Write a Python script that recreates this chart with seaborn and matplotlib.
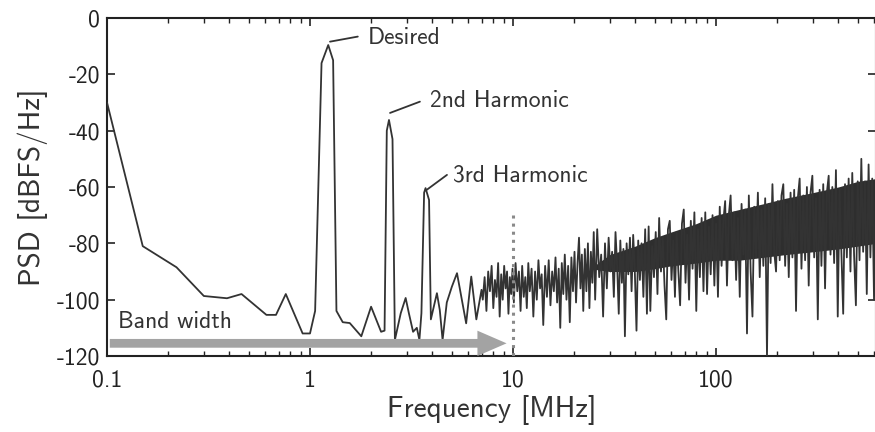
import numpy as np
import pandas as pd
import matplotlib
matplotlib.use("Agg")
import matplotlib.pyplot as plt
import seaborn as sns

# ---- data ----
# low-frequency part (MHz, dBFS/Hz)
low_f = [0.1, 0.15, 0.22, 0.3, 0.39, 0.46, 0.61, 0.68, 0.76, 0.92, 1.0, 1.06,
         1.14, 1.23, 1.30, 1.35, 1.45, 1.57, 1.79, 2.0, 2.24, 2.33, 2.39, 2.45,
         2.55, 2.62, 2.8, 2.96, 3.07, 3.22, 3.36, 3.46, 3.54, 3.65, 3.71, 3.86,
         3.94, 4.22, 4.36, 4.5, 4.72, 5.0, 5.3, 5.6, 5.88, 6.23, 6.6, 7.0]
low_v = [-30, -81, -88.5, -98.7, -99.5, -98, -105.4, -105.4, -98, -112, -112, -104,
         -16, -9.6, -15, -104, -108, -108.3, -113, -102.5, -111.4, -111, -40, -36.2,
         -43, -114.3, -104.8, -99.4, -104.8, -111.4, -110, -114.3, -104.8, -62, -60.4, -64.6,
         -107, -97.7, -103.7, -114.3, -101, -95.4, -90.6, -100, -108.4, -91.8, -107, -96.5]

# mid part
mid_f = [7.1, 7.25, 7.4, 7.55, 7.7, 7.85, 8.0, 8.15, 8.3, 8.45, 8.6, 8.75, 8.9, 9.05,
         9.2, 9.35, 9.5, 9.65, 9.8, 9.95, 10.1, 10.3, 10.5, 10.7, 10.9, 11.1, 11.3, 11.5,
         11.7, 11.9, 12.1, 12.35, 12.6, 12.85, 13.1, 13.35, 13.6, 13.85, 14.1, 14.4, 14.7,
         15.0, 15.3, 15.6, 15.9, 16.2, 16.5, 16.8, 17.1, 17.4, 17.7, 18.0, 18.35, 18.7,
         19.05, 19.4, 19.75, 20.1, 20.45, 20.8, 21.15, 21.5, 21.85, 22.2, 22.6, 23.0,
         23.4, 23.8, 24.2, 24.6, 25.0]
mid_v = [-100, -92, -104, -90, -97, -88, -103, -93, -99, -87, -106, -91, -100, -88,
         -96, -90, -105, -92, -98, -89, -101, -87, -97, -90, -104, -88, -99, -92,
         -103, -87, -97, -89, -106, -90, -100, -86, -96, -91, -109, -88, -99,
         -86, -102, -90, -97, -85, -101, -89, -110, -87, -98, -84, -100, -88,
         -108, -85, -97, -83, -101, -87, -78, -96, -84, -104, -82, -97,
         -80, -103, -83, -94, -76]

# dense high-frequency part
high_f = [25.4, 26.0, 26.6, 27.2, 27.8, 28.4, 29.0, 29.6, 30.2, 30.8, 31.4, 32.0,
          32.6, 33.2, 33.8, 34.4, 35.0, 35.6, 36.3, 37.0, 37.7, 38.4, 39.1, 39.8,
          40.6, 41.4, 42.2, 43.0, 43.9, 44.8, 45.7, 46.6, 47.5, 48.5, 49.5, 50.5,
          51.5, 52.5, 53.6, 54.7, 55.8, 56.9, 58.0, 59.2, 60.4, 61.6, 62.8, 64.0,
          65.3, 66.6, 68.0, 69.4, 70.8, 72.2, 73.7, 75.2, 76.7, 78.3, 80.0, 81.6,
          83.3, 85.0, 86.8, 88.6, 90.4, 92.3, 94.2, 96.2, 98.2, 100.2, 102.3, 104.4,
          106.6, 108.8, 111.0, 113.3, 115.7, 118.1, 120.6, 123.1, 125.7, 128.3, 131.0, 133.7,
          136.5, 139.3, 142.2, 145.2, 148.2, 151.3, 154.4, 157.6, 160.9, 164.3, 167.7, 171.2,
          174.8, 178.4, 182.1, 185.9, 189.8, 193.7, 197.7, 201.8, 206.0, 210.3, 214.7, 219.2,
          223.7, 228.4, 233.1, 238.0, 242.9, 248.0, 253.1, 258.4, 263.8, 269.3, 274.9, 280.6,
          286.4, 292.4, 298.5, 304.7, 311.0, 317.5, 324.1, 330.8, 337.7, 344.7, 351.9, 359.2,
          366.7, 374.3, 382.1, 390.0, 398.1, 406.4, 414.9, 423.5, 432.3, 441.3, 450.5, 459.8,
          469.4, 479.1, 489.1, 499.3, 509.6, 520.2, 531.0, 542.1, 553.4, 564.9, 576.6, 588.6,
          600.8, 614.4]
high_v = [-100, -75, -92, -84, -106, -80, -96, -78, -90, -83, -99, -76,
          -88, -105, -79, -94, -82, -113, -80, -91, -78, -97, -77, -89,
          -111, -79, -93, -80, -99, -75, -105, -74, -104, -81, -92, -76,
          -98, -71, -90, -78, -95, -107, -75, -72, -93, -79, -99, -76,
          -90, -102, -73, -68, -94, -77, -100, -72, -89, -69, -104, -75,
          -92, -71, -97, -69, -98, -74, -91, -70, -95, -73, -99, -67,
          -88, -72, -65, -95, -70, -63, -86, -69, -93, -71, -99, -66,
          -84, -68, -112, -63, -90, -106, -67, -85, -62, -92, -68, -88,
          -64, -120, -66, -87, -59, -83, -90, -65, -86, -63, -59, -88,
          -66, -92, -62, -85, -61, -104, -64, -57, -89, -63, -86, -60,
          -95, -62, -56, -85, -64, -107, -61, -88, -59, -96, -62, -56,
          -84, -60, -87, -54, -106, -61, -83, -105, -59, -85, -57, -90,
          -55, -84, -102, -58, -86, -50, -83, -58, -98, -52, -85, -57,
          -100, -60]

# dense core of the noise floor (envelope of the solid dark band)
core_f = [24, 30, 40, 50, 60, 80, 100, 130, 170, 220, 300, 400, 500, 614.4]
core_hi = [-89, -84, -81, -78, -76, -73, -70, -68, -66, -64, -62, -60, -58, -57]
core_lo = [-89, -90, -90, -89, -88, -87, -86, -86, -85, -84, -83, -82, -81, -80]

y_ticks = [0, -20, -40, -60, -80, -100, -120]
y_labels = ["0", "-20", "-40", "-60", "-80", "-100", "-120"]
x_ticks = [0.1, 1, 10, 100]
x_labels = ["0.1", "1", "10", "100"]

df = pd.DataFrame({"f": low_f + mid_f + high_f, "psd": low_v + mid_v + high_v})

# ---- drawing ----
sns.set_style("ticks")
plt.rcParams["font.family"] = ["cmss10", "DejaVu Sans"]
plt.rcParams["axes.unicode_minus"] = False

fig = plt.figure(figsize=(8.75, 4.32), dpi=100)
ax = fig.add_axes([107 / 875, 76 / 432, (876 - 107) / 875, (356 - 18) / 432])

line_col = "#333333"
ax.fill_between(core_f, core_lo, core_hi, color="#2e2e2e", lw=0, zorder=2)
sns.lineplot(data=df, x="f", y="psd", ax=ax, color=line_col, lw=1.3,
             estimator=None, sort=False, zorder=3)

ax.set_xscale("log")
ax.set_xlim(0.1, 614.4)
ax.set_ylim(-120, 0)
ax.set_xticks(x_ticks)
ax.set_xticklabels(x_labels)
ax.set_yticks(y_ticks)
ax.set_yticklabels(y_labels)

ax.tick_params(which="both", direction="in", top=True, right=True,
               colors="#222222", labelsize=17)
ax.tick_params(which="major", length=6, width=1.2)
ax.tick_params(which="minor", length=3.5, width=1.0)
ax.tick_params(axis="x", pad=10)
ax.tick_params(axis="y", pad=5)
for s in ax.spines.values():
    s.set_linewidth(1.5)
    s.set_color("#222222")
    s.set_visible(True)

ax.set_xlabel("Frequency [MHz]", fontsize=21, color="#333333", labelpad=2)
ax.set_ylabel("PSD [dBFS/Hz]", fontsize=21, color="#333333", labelpad=6)

# dotted band edge
ax.plot([10, 10], [-70, -120], ls=":", color="#8a8a8a", lw=2.2, zorder=4)

# band width arrow
ax.annotate("", xy=(9.6, -115.5), xytext=(0.1, -115.5),
            arrowprops=dict(arrowstyle="simple,head_length=1.5,head_width=1.3,tail_width=0.45",
                            color="#a3a3a3", lw=0, mutation_scale=14), zorder=5)
ax.text(0.113, -108, "Band width", fontsize=17, color="#333333", va="center", ha="left", zorder=6)

# annotations
ann = [("Desired", (1.255, -8.4), (1.72, -6.6), (1.93, -7.0)),
       ("2nd Harmonic", (2.48, -33.7), (3.48, -29.7), (3.9, -29.5)),
       ("3rd Harmonic", (3.76, -61), (4.73, -55.7), (5.06, -56))]
for lab, p0, p1, pt in ann:
    ax.plot([p0[0], p1[0]], [p0[1], p1[1]], color="#333333", lw=1.3, zorder=6)
    ax.text(pt[0], pt[1], lab, fontsize=17, color="#333333", va="center", ha="left", zorder=6)

fig.savefig("out.png", dpi=100)
